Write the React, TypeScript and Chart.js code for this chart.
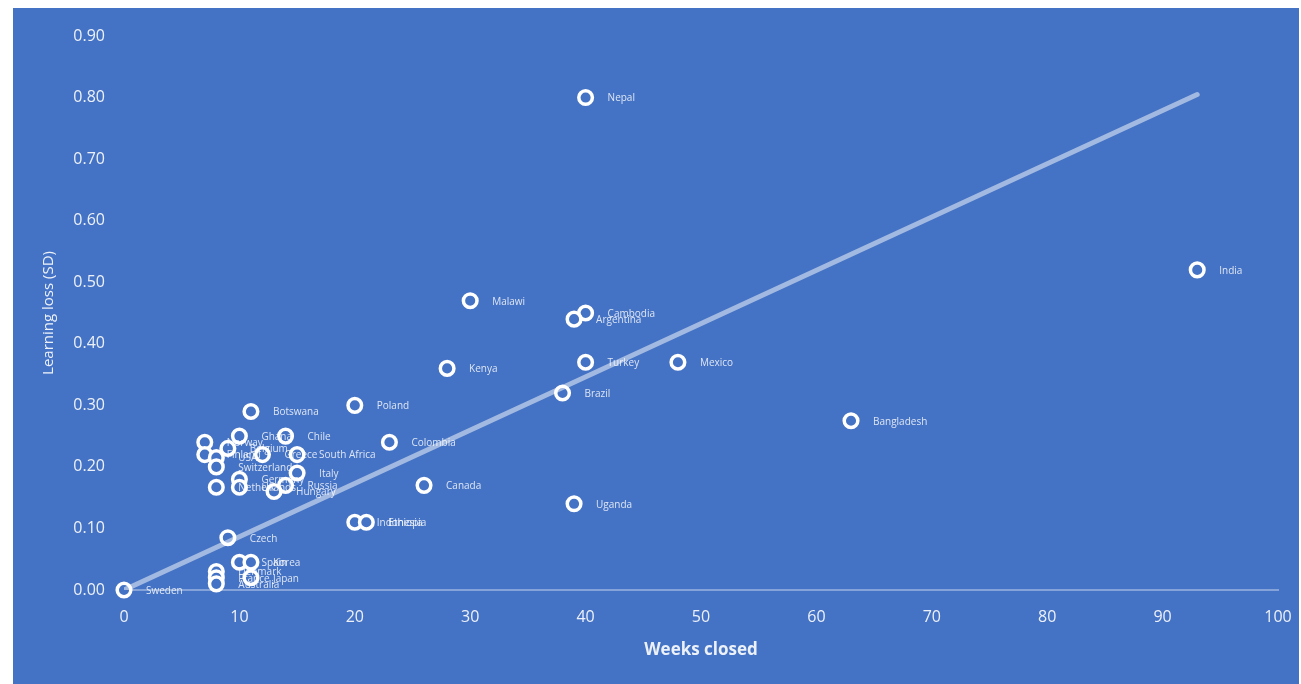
import React, { useEffect, useRef } from "react";
import { Chart, registerables } from "chart.js";

Chart.register(...registerables);

const countries = [
  "Sweden", "Nepal", "India", "Malawi", "Cambodia", "Argentina", "Kenya", "Turkey", "Mexico",
  "Brazil", "Bangladesh", "Poland", "Botswana", "Colombia", "Chile", "Ghana", "Norway",
  "Belgium", "Finland", "USA", "Greece", "South Africa", "Switzerland", "Italy", "Germany",
  "UK", "Netherlands", "Russia", "Hungary", "Canada", "Uganda", "Indonesia", "Ethiopia",
  "Czech", "Spain", "Korea", "Denmark", "France", "Japan", "Australia",
];
const weeksClosed = [
  0, 40, 93, 30, 40, 39, 28, 40, 48,
  38, 63, 20, 11, 23, 14, 10, 7,
  9, 7, 8, 12, 15, 8, 15, 10,
  10, 8, 14, 13, 26, 39, 20, 21,
  9, 10, 11, 8, 8, 11, 8,
];
const learningLoss = [
  0, 0.8, 0.52, 0.47, 0.45, 0.44, 0.36, 0.37, 0.37,
  0.32, 0.275, 0.3, 0.29, 0.24, 0.25, 0.25, 0.24,
  0.23, 0.22, 0.215, 0.22, 0.22, 0.2, 0.19, 0.18,
  0.167, 0.167, 0.17, 0.16, 0.17, 0.14, 0.11, 0.11,
  0.085, 0.045, 0.045, 0.03, 0.02, 0.02, 0.01,
];
const trendX = [0, 93];
const trendY = [0, 0.805];
const xTicks = [0, 10, 20, 30, 40, 50, 60, 70, 80, 90, 100];
const yTicks = [0, 0.1, 0.2, 0.3, 0.4, 0.5, 0.6, 0.7, 0.8, 0.9];

const BG = "#4472C4";
const FONT = "'Open Sans', 'Liberation Sans', sans-serif";

const labelPlugin = {
  id: "pointLabels",
  afterDatasetsDraw(chart: any) {
    const meta = chart.getDatasetMeta(1);
    const ctx = chart.ctx;
    ctx.save();
    ctx.font = `10px ${FONT}`;
    ctx.fillStyle = "rgba(255,255,255,0.82)";
    ctx.textBaseline = "middle";
    ctx.textAlign = "left";
    meta.data.forEach((el: any, i: number) => {
      ctx.fillText(countries[i], el.x + 22, el.y + 1);
    });
    ctx.restore();
  },
};

export default function App() {
  const ref = useRef<HTMLCanvasElement | null>(null);
  useEffect(() => {
    if (!ref.current) return;
    const chart = new Chart(ref.current, {
      type: "scatter",
      data: {
        datasets: [
          {
            type: "line",
            data: trendX.map((x, i) => ({ x, y: trendY[i] })),
            borderColor: "rgba(255,255,255,0.5)",
            borderWidth: 5,
            borderCapStyle: "round",
            pointRadius: 0,
            fill: false,
          } as any,
          {
            data: weeksClosed.map((x, i) => ({ x, y: learningLoss[i] })),
            pointRadius: 6.8,
            pointBorderWidth: 3.5,
            pointBorderColor: "#ffffff",
            pointBackgroundColor: BG,
            clip: false,
          } as any,
        ],
      },
      options: {
        animation: false,
        responsive: false,
        maintainAspectRatio: false,
        layout: { padding: { top: 28, right: 21, left: 0, bottom: 0 } },
        plugins: { legend: { display: false }, tooltip: { enabled: false } },
        scales: {
          x: {
            type: "linear",
            min: 0,
            max: 100,
            afterBuildTicks: (s: any) => {
              s.ticks = xTicks.map((v) => ({ value: v }));
            },
            afterFit: (s: any) => {
              s.height = 94;
              s.paddingLeft = 0;
              s.paddingRight = 0;
            },
            grid: { display: false, drawTicks: false },
            border: { display: true, color: "rgba(255,255,255,0.35)", width: 2 },
            ticks: { color: "rgba(255,255,255,0.9)", font: { family: FONT, size: 16 }, padding: 18 },
            title: {
              display: true,
              text: "Weeks closed",
              color: "rgba(255,255,255,0.9)",
              font: { family: FONT, size: 17, weight: "bold" },
              padding: { top: 24, bottom: 24 },
            },
          },
          y: {
            type: "linear",
            min: 0,
            max: 0.9,
            afterBuildTicks: (s: any) => {
              s.ticks = yTicks.map((v) => ({ value: v }));
            },
            afterFit: (s: any) => {
              s.width = 111;
              s.paddingTop = 0;
              s.paddingBottom = 0;
            },
            grid: { display: false, drawTicks: false },
            border: { display: false },
            ticks: {
              color: "rgba(255,255,255,0.9)",
              font: { family: FONT, size: 16 },
              padding: 19,
              callback: (v: any) => Number(v).toFixed(2),
            },
            title: {
              display: true,
              text: "Learning loss (SD)",
              color: "rgba(255,255,255,0.9)",
              font: { family: FONT, size: 15 },
              padding: { top: 27, bottom: 27 },
            },
          },
        },
      },
      plugins: [labelPlugin],
    } as any);
    return () => chart.destroy();
  }, []);
  return (
    <div
      style={{
        position: "absolute",
        left: 13,
        top: 8,
        width: 1286,
        height: 676,
        background: BG,
      }}
    >
      <canvas ref={ref} width={1286} height={676} style={{ display: "block" }} />
    </div>
  );
}
